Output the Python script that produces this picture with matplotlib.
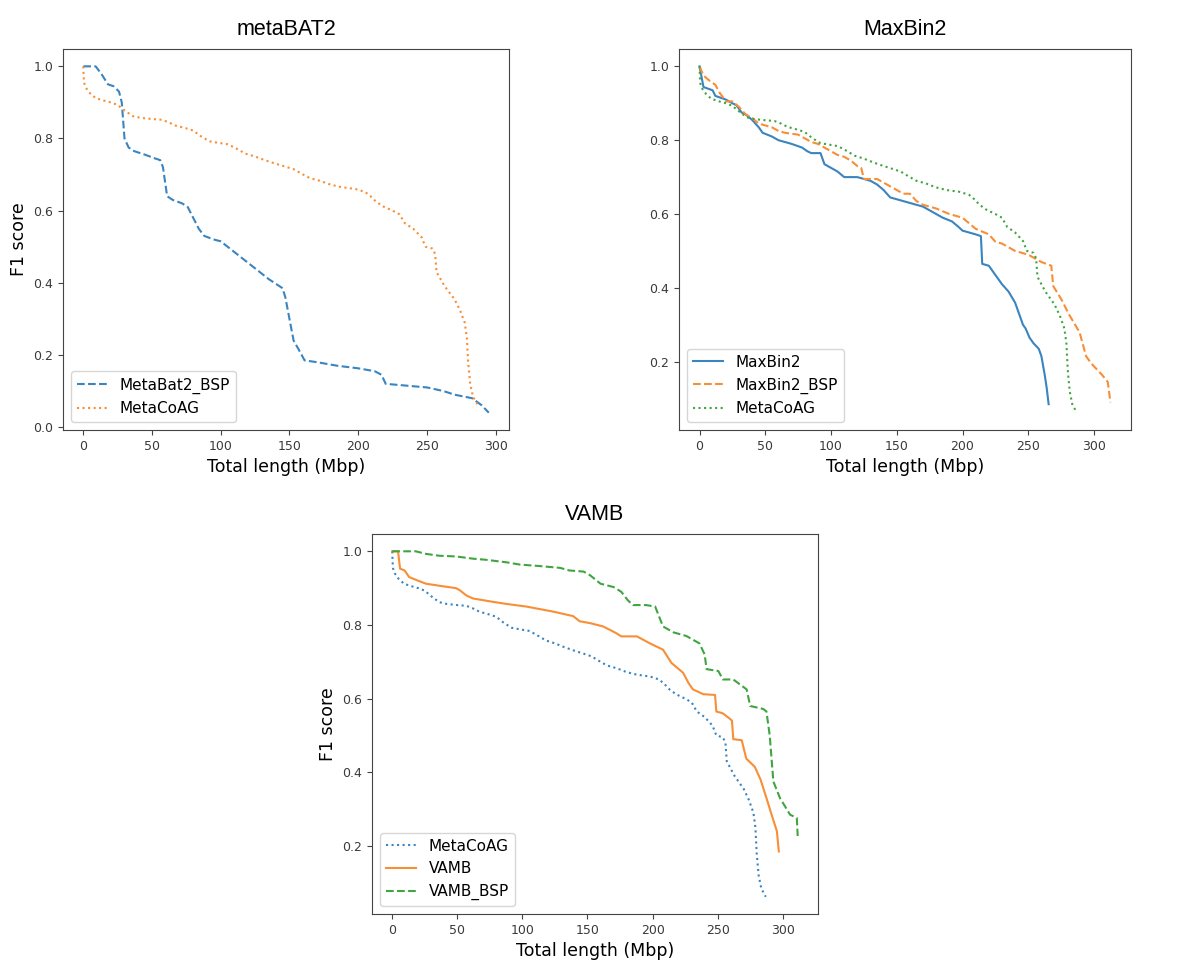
import matplotlib.pyplot as plt
import numpy as np

# MetaCoAG curve (shared by all three panels)
mc_x = [0, 0.5, 2, 5, 9, 15, 20, 25, 30, 36, 42, 50, 57, 62, 67, 75, 80, 86, 92, 100,
        105, 110, 118, 125, 132, 140, 147, 153, 160, 165, 172, 180, 188, 198, 205, 209,
        213, 218, 225, 230, 234, 240, 246, 249, 254, 256, 257, 263, 270, 274, 277.5,
        279, 280, 281.5, 283.5, 286, 287]
mc_y = [1.0, 0.955, 0.94, 0.925, 0.912, 0.905, 0.90, 0.893, 0.878, 0.862, 0.857, 0.854,
        0.852, 0.845, 0.836, 0.828, 0.822, 0.805, 0.792, 0.787, 0.784, 0.775, 0.758, 0.75,
        0.74, 0.73, 0.722, 0.715, 0.70, 0.69, 0.683, 0.672, 0.665, 0.66, 0.652, 0.64,
        0.625, 0.612, 0.60, 0.59, 0.565, 0.55, 0.527, 0.50, 0.495, 0.48, 0.43, 0.39,
        0.355, 0.325, 0.29, 0.25, 0.18, 0.12, 0.085, 0.068, 0.062]

# metaBAT2 panel
mb_bsp_x = [0, 9, 13, 18, 22, 26, 28, 30, 33, 37, 45, 52, 56, 58, 61, 65, 72, 76, 80, 84,
            88, 95, 100, 105, 120, 135, 145, 147, 150, 153, 156, 161, 170, 185, 200, 212,
            217, 220, 235, 250, 262, 270, 283, 290, 295]
mb_bsp_y = [1.0, 1.0, 0.98, 0.95, 0.945, 0.93, 0.90, 0.80, 0.775, 0.765, 0.755, 0.745,
            0.74, 0.72, 0.64, 0.63, 0.62, 0.61, 0.58, 0.55, 0.53, 0.52, 0.515, 0.50, 0.455,
            0.41, 0.385, 0.36, 0.30, 0.24, 0.22, 0.185, 0.18, 0.17, 0.163, 0.155, 0.145,
            0.12, 0.115, 0.11, 0.10, 0.09, 0.08, 0.06, 0.04]

# MaxBin2 panel
mx_x = [0, 3, 10, 12, 20, 25, 28, 32, 35, 40, 45, 48, 55, 60, 70, 78, 82, 85, 92, 95, 100,
        105, 110, 120, 130, 135, 140, 145, 150, 160, 170, 175, 180, 185, 192, 197, 200,
        205, 210, 214, 215, 220, 225, 230, 235, 240, 243, 246, 248, 251, 254, 258, 260,
        262.5, 264, 265.5]
mx_y = [1.0, 0.944, 0.935, 0.92, 0.91, 0.90, 0.895, 0.875, 0.87, 0.855, 0.835, 0.82, 0.81,
        0.80, 0.79, 0.78, 0.77, 0.765, 0.765, 0.735, 0.725, 0.715, 0.70, 0.70, 0.69, 0.68,
        0.665, 0.645, 0.64, 0.63, 0.62, 0.61, 0.60, 0.59, 0.58, 0.565, 0.555, 0.55, 0.545,
        0.54, 0.465, 0.46, 0.435, 0.41, 0.39, 0.36, 0.33, 0.30, 0.29, 0.265, 0.25, 0.235,
        0.215, 0.165, 0.13, 0.085]
mx_bsp_x = [0, 3, 8, 12, 15, 20, 25, 30, 35, 40, 45, 50, 55, 60, 65, 75, 85, 90, 95, 100,
            105, 110, 115, 120, 123, 125, 135, 140, 145, 150, 155, 160, 165, 170, 180, 190,
            200, 205, 210, 220, 225, 230, 240, 250, 255, 260, 267.5, 269, 275, 281.5, 289,
            294, 298, 302, 306, 310.5, 312.5]
mx_bsp_y = [1.0, 0.975, 0.96, 0.95, 0.93, 0.905, 0.905, 0.89, 0.87, 0.86, 0.845, 0.84,
            0.835, 0.825, 0.82, 0.815, 0.795, 0.79, 0.78, 0.77, 0.76, 0.755, 0.745, 0.73,
            0.725, 0.695, 0.695, 0.685, 0.675, 0.665, 0.655, 0.655, 0.635, 0.625, 0.615,
            0.60, 0.59, 0.575, 0.56, 0.545, 0.525, 0.52, 0.50, 0.49, 0.48, 0.47, 0.46,
            0.405, 0.37, 0.325, 0.28, 0.215, 0.195, 0.18, 0.165, 0.145, 0.09]

# VAMB panel
vm_x = [0, 4.5, 6, 9.5, 13, 20, 26, 39, 49, 52, 57, 62, 77, 88, 103, 124, 139, 144, 152,
        162, 172, 176, 188, 198, 208, 214.5, 223.5, 227.5, 231, 239, 248, 249, 254, 259.5,
        261, 262, 268.5, 272, 278.5, 283, 287.5, 291, 295.5, 297]
vm_y = [1.0, 1.0, 0.953, 0.948, 0.93, 0.92, 0.912, 0.905, 0.90, 0.894, 0.88, 0.872,
        0.863, 0.857, 0.85, 0.836, 0.824, 0.81, 0.805, 0.796, 0.778, 0.769, 0.769, 0.75,
        0.733, 0.697, 0.67, 0.643, 0.625, 0.612, 0.61, 0.565, 0.56, 0.545, 0.54, 0.49,
        0.487, 0.437, 0.415, 0.38, 0.33, 0.29, 0.24, 0.185]
vm_bsp_x = [0, 10, 18, 26, 36, 49, 62, 72, 88, 98, 113, 129, 136, 147, 152, 160, 170, 176,
            181, 185, 195, 202, 208, 216, 226, 236, 240, 241.5, 250.5, 254, 262, 272.3,
            275, 285, 287.5, 290, 292.8, 297.9, 305.6, 310.8, 311.5]
vm_bsp_y = [1.0, 1.0, 1.0, 0.993, 0.988, 0.986, 0.98, 0.977, 0.97, 0.964, 0.96, 0.955,
            0.948, 0.945, 0.935, 0.912, 0.903, 0.89, 0.867, 0.854, 0.854, 0.85, 0.796,
            0.78, 0.77, 0.75, 0.72, 0.68, 0.675, 0.652, 0.652, 0.625, 0.58, 0.572, 0.565,
            0.5, 0.375, 0.33, 0.285, 0.276, 0.227]

blue, orange, green = '#3a84c0', '#f88e36', '#40a540'

fig = plt.figure(figsize=(11.91, 9.65), dpi=100)
ax1 = fig.add_axes([0.0529, 0.5544, 0.3745, 0.3948])
ax2 = fig.add_axes([0.5701, 0.5544, 0.3795, 0.3948])
ax3 = fig.add_axes([0.3123, 0.0528, 0.3745, 0.3938])

ax1.plot(mb_bsp_x, mb_bsp_y, '--', color=blue, label='MetaBat2_BSP')
ax1.plot(mc_x, mc_y, ':', color=orange, label='MetaCoAG')
ax1.set_ylabel('F1 score', fontsize=12.5)

ax2.plot(mx_x, mx_y, '-', color=blue, label='MaxBin2')
ax2.plot(mx_bsp_x, mx_bsp_y, '--', color=orange, label='MaxBin2_BSP')
ax2.plot(mc_x, mc_y, ':', color=green, label='MetaCoAG')

ax3.plot(mc_x, mc_y, ':', color=blue, label='MetaCoAG')
ax3.plot(vm_x, vm_y, '-', color=orange, label='VAMB')
ax3.plot(vm_bsp_x, vm_bsp_y, '--', color=green, label='VAMB_BSP')
ax3.set_ylabel('F1 score', fontsize=12.5)

for ax, t in [(ax1, 'metaBAT2'), (ax2, 'MaxBin2'), (ax3, 'VAMB')]:
    ax.set_title(t, fontsize=15.5, family='Liberation Sans', pad=10)
    ax.set_xlabel('Total length (Mbp)', fontsize=12.5)
    ax.tick_params(labelsize=9, labelcolor='#3a3a3a', color='#444444')
    for s in ax.spines.values():
        s.set_color('#444444')
    ax.set_xticks([0, 50, 100, 150, 200, 250, 300])
    ax.legend(loc='lower left', fontsize=11)

fig.savefig('out.png', dpi=100)
